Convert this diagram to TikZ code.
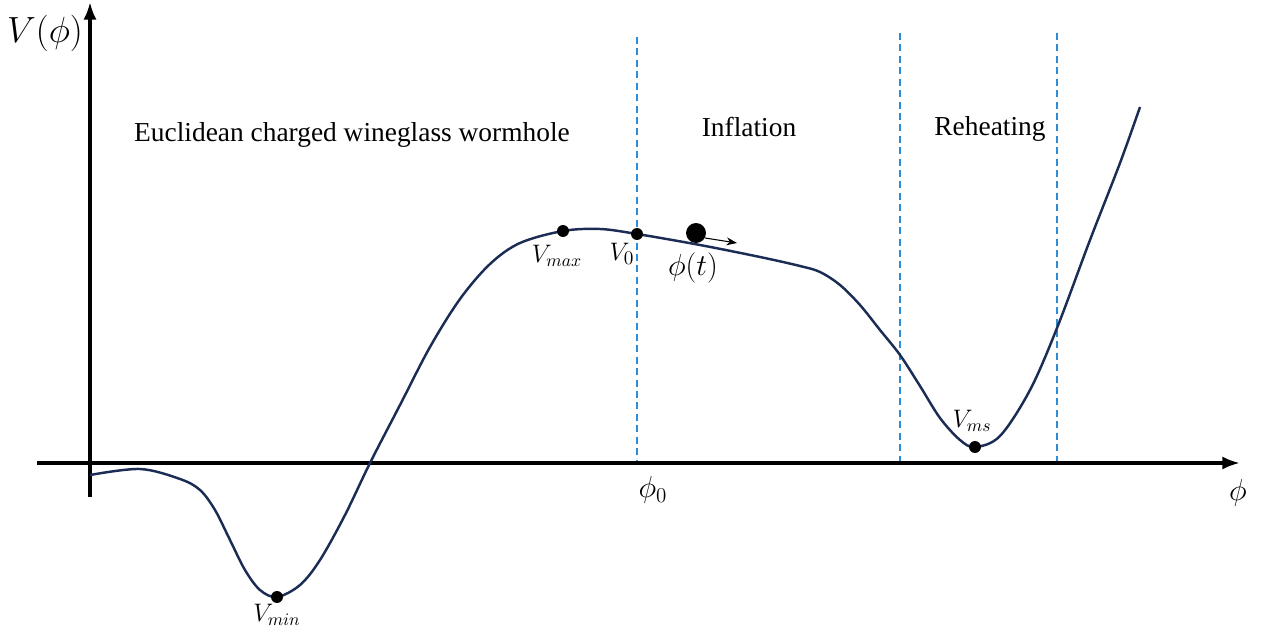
\documentclass[tikz,border=0pt]{standalone}
\usepackage{fontspec}
\setmainfont{Liberation Serif}
\usetikzlibrary{arrows.meta}
\definecolor{curvecol}{RGB}{28,45,85}
\definecolor{dashcol}{RGB}{45,140,215}
\begin{document}
\begin{tikzpicture}[x=0.02cm,y=-0.02cm,
  axis/.style={line width=2pt,-{Latex[length=10pt,width=7.5pt]}},
  vdash/.style={dashcol,line width=0.9pt,dash pattern=on 4pt off 2.5pt},
  pot/.style={curvecol,line width=1.4pt},
  dot/.style={circle,fill=black,inner sep=0pt,minimum size=12*0.567pt},
  lbl/.style={font=\fontsize{15.6}{18}\selectfont},
  mlbl/.style={font=\fontsize{14}{16}\selectfont}]
\useasboundingbox (0,0) rectangle (1261,632);
% dashed
\coordinate (d1t) at (637,37); \coordinate (d1b) at (637,463);
\coordinate (d2t) at (900,33); \coordinate (d2b) at (900,463);
\coordinate (d3t) at (1057,33); \coordinate (d3b) at (1057,463);
\draw[vdash] (d1t) -- (d1b);
\draw[vdash] (d2t) -- (d2b);
\draw[vdash] (d3t) -- (d3b);
% axes
\coordinate (xs) at (37,463); \coordinate (xe) at (1240,463);
\coordinate (ys) at (90,497); \coordinate (ye) at (90,2);
\draw[axis] (xs) -- (xe);
\draw[axis] (ys) -- (ye);
% curve
\draw[pot] plot[smooth,tension=0.55] coordinates {(90,475) (140,469) (180,479) (200,490) (215,510) (230,540) (245,570) (260,590) (277,597) (300,585) (320,560) (345,515) (370,463) (400,405) (430,347) (460,299) (490,264) (520,243) (563,231) (600,229) (637,234) (700,245) (760,257) (800,266) (820,272) (840,285) (860,305) (880,330) (900,355) (920,386) (940,418) (960,440) (975,447) (1000,436) (1030,390) (1057,328) (1090,240) (1120,163) (1140,107)};
% dots
\node[dot] (vmax) at (563,231) {};
\node[dot] (v0) at (637,234) {};
\node[dot] (vmin) at (277,597) {};
\node[dot] (vms) at (975,447) {};
\node[circle,fill=black,inner sep=0pt,minimum size=20*0.567pt] (ball) at (696,233) {};
\coordinate (arrend) at (737,243);
\draw[-{Stealth[length=6pt,width=4.5pt]},line width=0.6pt] (ball) ++(9,5) -- (arrend);
% labels
\node[mlbl] (lvmax) at (557,256) {$V_{max}$};
\node[mlbl,font=\fontsize{15}{16}\selectfont] (lv0) at (622,254) {$V_0$};
\node[font=\fontsize{17}{18}\selectfont] (lphit) at (693,268) {$\phi(t)$};
\node[mlbl] (lvms) at (972,421) {$V_{ms}$};
\node[mlbl] (lvmin) at (277,615) {$V_{min}$};
\node[font=\fontsize{17}{18}\selectfont] (lphi0) at (653,490) {$\phi_0$};
\node[font=\fontsize{17}{18}\selectfont] (lphi) at (1238,493) {$\phi$};
\node[font=\fontsize{20}{22}\selectfont] (lV) at (45,33) {$V(\phi)$};
\node[lbl] (t1) at (352,135) {Euclidean charged wineglass wormhole};
\node[lbl] (t2) at (749,127) {Inflation};
\node[lbl] (t3) at (990,129) {Reheating};
\end{tikzpicture}
\end{document}
